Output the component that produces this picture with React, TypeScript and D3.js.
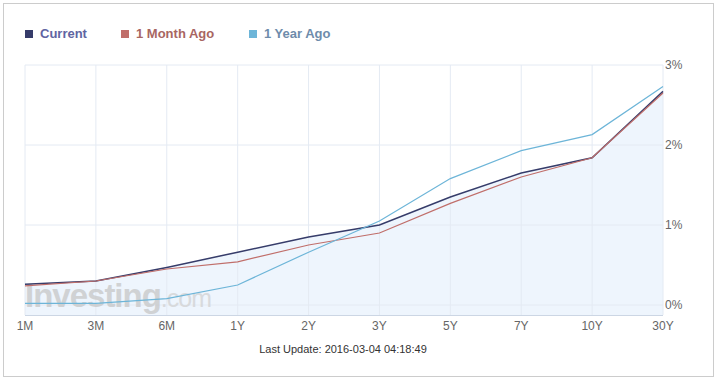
import React from "react";
import * as d3 from "d3";

const categories = ["1M", "3M", "6M", "1Y", "2Y", "3Y", "5Y", "7Y", "10Y", "30Y"];
const current = [0.26, 0.3, 0.47, 0.66, 0.85, 1.0, 1.35, 1.65, 1.84, 2.67];
const monthAgo = [0.24, 0.3, 0.45, 0.54, 0.75, 0.9, 1.27, 1.6, 1.84, 2.65];
const yearAgo = [0.02, 0.02, 0.08, 0.25, 0.66, 1.05, 1.58, 1.93, 2.13, 2.73];
const yTicks = [0, 1, 2, 3];
const seriesNames = ["Current", "1 Month Ago", "1 Year Ago"];
const seriesColors = ["#363c6a", "#c06e6a", "#6db5d8"];
const legendTextColors = ["#6064a2", "#a86662", "#6e8cab"];

const W = 721;
const H = 381;
const left = 25;
const right = 663;
const top = 65;
const bottom = 315;

export default function App() {
  const x = d3.scalePoint<string>().domain(categories).range([left, right]);
  const y = d3.scaleLinear().domain([-0.125, 3]).range([bottom, top]);

  const line = d3
    .line<number>()
    .x((_, i) => x(categories[i]) as number)
    .y((d) => y(d));
  const area = d3
    .area<number>()
    .x((_, i) => x(categories[i]) as number)
    .y0(bottom)
    .y1((d) => y(d));

  const all = [current, monthAgo, yearAgo];
  const legendX = [25, 121, 249];

  return (
    <div style={{ position: "absolute", left: 0, top: 0 }}>
      <svg width={W} height={H} style={{ display: "block", fontFamily: "Arial, 'Liberation Sans', sans-serif" }}>
        <rect x={0} y={0} width={W} height={H} fill="#fff" />
        <rect x={3.5} y={3.5} width={710} height={373} fill="#fff" stroke="#cccccc" />

        {/* area fill */}
        <path d={area(current) || ""} fill="#eef5fd" />

        {/* grid */}
        {yTicks.map((t) => (
          <line key={"gy" + t} x1={left} x2={right} y1={y(t)} y2={y(t)} stroke="#e4eaf3" strokeWidth={1} />
        ))}
        {categories.map((c) => (
          <line key={"gx" + c} x1={x(c)} x2={x(c)} y1={top} y2={bottom} stroke="#e4eaf3" strokeWidth={1} />
        ))}
        <line x1={left} x2={right} y1={bottom + 0.5} y2={bottom + 0.5} stroke="#ccd6e4" strokeWidth={1} />

        {/* watermark */}
        <text x={25} y={307} fontSize={33} fontWeight="bold" fill="#c4c4c4" opacity={0.7} letterSpacing={-1}>
          Investing
          <tspan fontWeight="normal" fontSize={25} fill="#d0d0d0">.com</tspan>
        </text>

        {/* lines */}
        {all.map((s, i) => (
          <path key={"l" + i} d={line(s) || ""} fill="none" stroke={seriesColors[i]} strokeWidth={i === 0 ? 1.5 : 1.2} />
        ))}

        {/* y labels */}
        {yTicks.map((t) => (
          <text key={"yl" + t} x={665} y={y(t)} dy="0.35em" fontSize={12} fill="#666">
            {t + "%"}
          </text>
        ))}
        {/* x labels */}
        {categories.map((c) => (
          <text key={"xl" + c} x={x(c)} y={330} textAnchor="middle" fontSize={12} fill="#666">
            {c}
          </text>
        ))}

        {/* legend */}
        {seriesNames.map((n, i) => (
          <g key={"lg" + i}>
            <rect x={legendX[i]} y={30} width={8} height={8} fill={seriesColors[i]} />
            <text x={legendX[i] + 15} y={38} fontSize={13} fontWeight="bold" fill={legendTextColors[i]}>
              {n}
            </text>
          </g>
        ))}

        <text x={343} y={353} textAnchor="middle" fontSize={11} fill="#333">
          Last Update: 2016-03-04 04:18:49
        </text>
      </svg>
    </div>
  );
}
